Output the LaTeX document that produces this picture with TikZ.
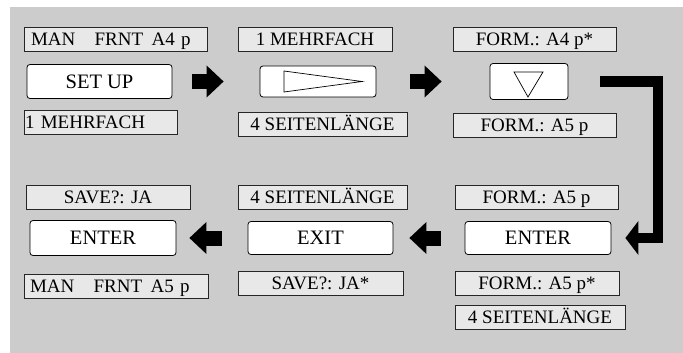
\documentclass[tikz,border=0pt]{standalone}
\usepackage{fontspec}
\setmainfont{Liberation Serif}
\usepackage{tikz}
\usetikzlibrary{arrows.meta}

\definecolor{hintergrund}{gray}{0.8}
\definecolor{anzeigegrau}{gray}{0.91}

\tikzset{
    anzeige/.style={draw=black!85, fill=anzeigegrau, line width=0.8pt, minimum height=24pt,
        inner sep=0pt, text height=12.6pt, text depth=0pt, font=\fontsize{19}{19}\selectfont},
    taste/.style={draw, fill=white, rounded corners=3pt, line width=0.8pt, inner sep=0pt,
        text height=13.6pt, text depth=0pt, font=\fontsize{20.5}{20.5}\selectfont},
    blockpfeil/.style={line width=15pt, -{Triangle[width=32pt, length=17pt, line width=0pt]}},
    winkelpfeil/.style={line width=10.5pt, line join=miter, -{Triangle[width=34pt, length=13pt, line width=0pt]}},
}

\begin{document}
\begin{tikzpicture}[x=1pt, y=-1pt]
        \useasboundingbox (0,0) rectangle (683,353);
        \fill[hintergrund] (10,7) rectangle (683,353);
        %上の段　（左から右へ）
        \node[anzeige, minimum width=183pt, text width=169pt, align=left] (setupO) at (115.5,39) {MAN\hspace{13pt} FRNT\hspace{2pt} A4 p};
        \node[taste, minimum width=145pt, minimum height=34pt] (setup) at (99.5,81.5) {SET UP};
        \node[anzeige, minimum width=153pt, text width=151pt, align=left] (setupU) at (100.5,122) {1 MEHRFACH};
        \node[anzeige, minimum width=154pt] (playO) at (315,39) {1 MEHRFACH};
        \node[taste, minimum width=116pt, minimum height=31pt] (play) at (318,81.5) {};
        \node[anzeige, minimum width=169pt] (playU) at (322.5,124) {4 SEITENLÄNGE};
        \node[anzeige, minimum width=163pt] (downO) at (534.5,39) {FORM.: A4 p*};
        \node[taste, minimum width=78pt, minimum height=36pt] (down) at (529,81.5) {};
        \node[anzeige, minimum width=163pt] (downU) at (534.5,125.5) {FORM.: A5 p};
        \draw[line width=0.7pt] ([shift={(-34,-10.5)}]play.center) -- ([shift={(-34,10.5)}]play.center) -- ([shift={(44,0)}]play.center) -- cycle;
        \draw[line width=0.7pt] ([shift={(-15,-9.5)}]down.center) -- ([shift={(14,-9.5)}]down.center) -- ([shift={(-1,15.5)}]down.center) -- cycle;
        %下の段　（右から左へ）
        \node[anzeige, minimum width=163pt] (enterRO) at (536.5,197) {FORM.: A5 p};
        \node[taste, minimum width=146pt, minimum height=33pt] (enterR) at (538,238) {ENTER};
        \node[anzeige, minimum width=164pt] (enterRU) at (537,283.5) {FORM.: A5 p*};
        \node[anzeige, minimum width=170pt] (enterRUU) at (540,317) {4 SEITENLÄNGE};
        \node[anzeige, minimum width=169pt] (exitO) at (322.5,197) {4 SEITENLÄNGE};
        \node[taste, minimum width=145pt, minimum height=33pt] (exit) at (320.5,238) {EXIT};
        \node[anzeige, minimum width=165pt] (exitU) at (320.5,283) {SAVE?: JA*};
        \node[anzeige, minimum width=164pt] (enterLO) at (108,197) {SAVE?: JA};
        \node[taste, minimum width=146pt, minimum height=35pt] (enterL) at (103,238) {ENTER};
        \node[anzeige, minimum width=184pt, text width=172pt, align=left] (enterLU) at (116,286) {MAN\hspace{13pt} FRNT\hspace{2pt} A5 p};
        %矢印
        \draw[blockpfeil, shorten <=20pt, shorten >=36pt] (setup) -- (play);
        \draw[blockpfeil, shorten <=34pt, shorten >=48pt] (play) -- (down);
        \draw[winkelpfeil] ([xshift=32pt]down.east) -| ([xshift=46.5pt]enterR.east) -- ([xshift=14pt]enterR.east);
        \draw[blockpfeil, shorten <=24pt, shorten >=16pt] (enterR) -- (exit);
        \draw[blockpfeil, shorten <=26pt, shorten >=13pt] (exit) -- (enterL);
    \end{tikzpicture}
\end{document}
